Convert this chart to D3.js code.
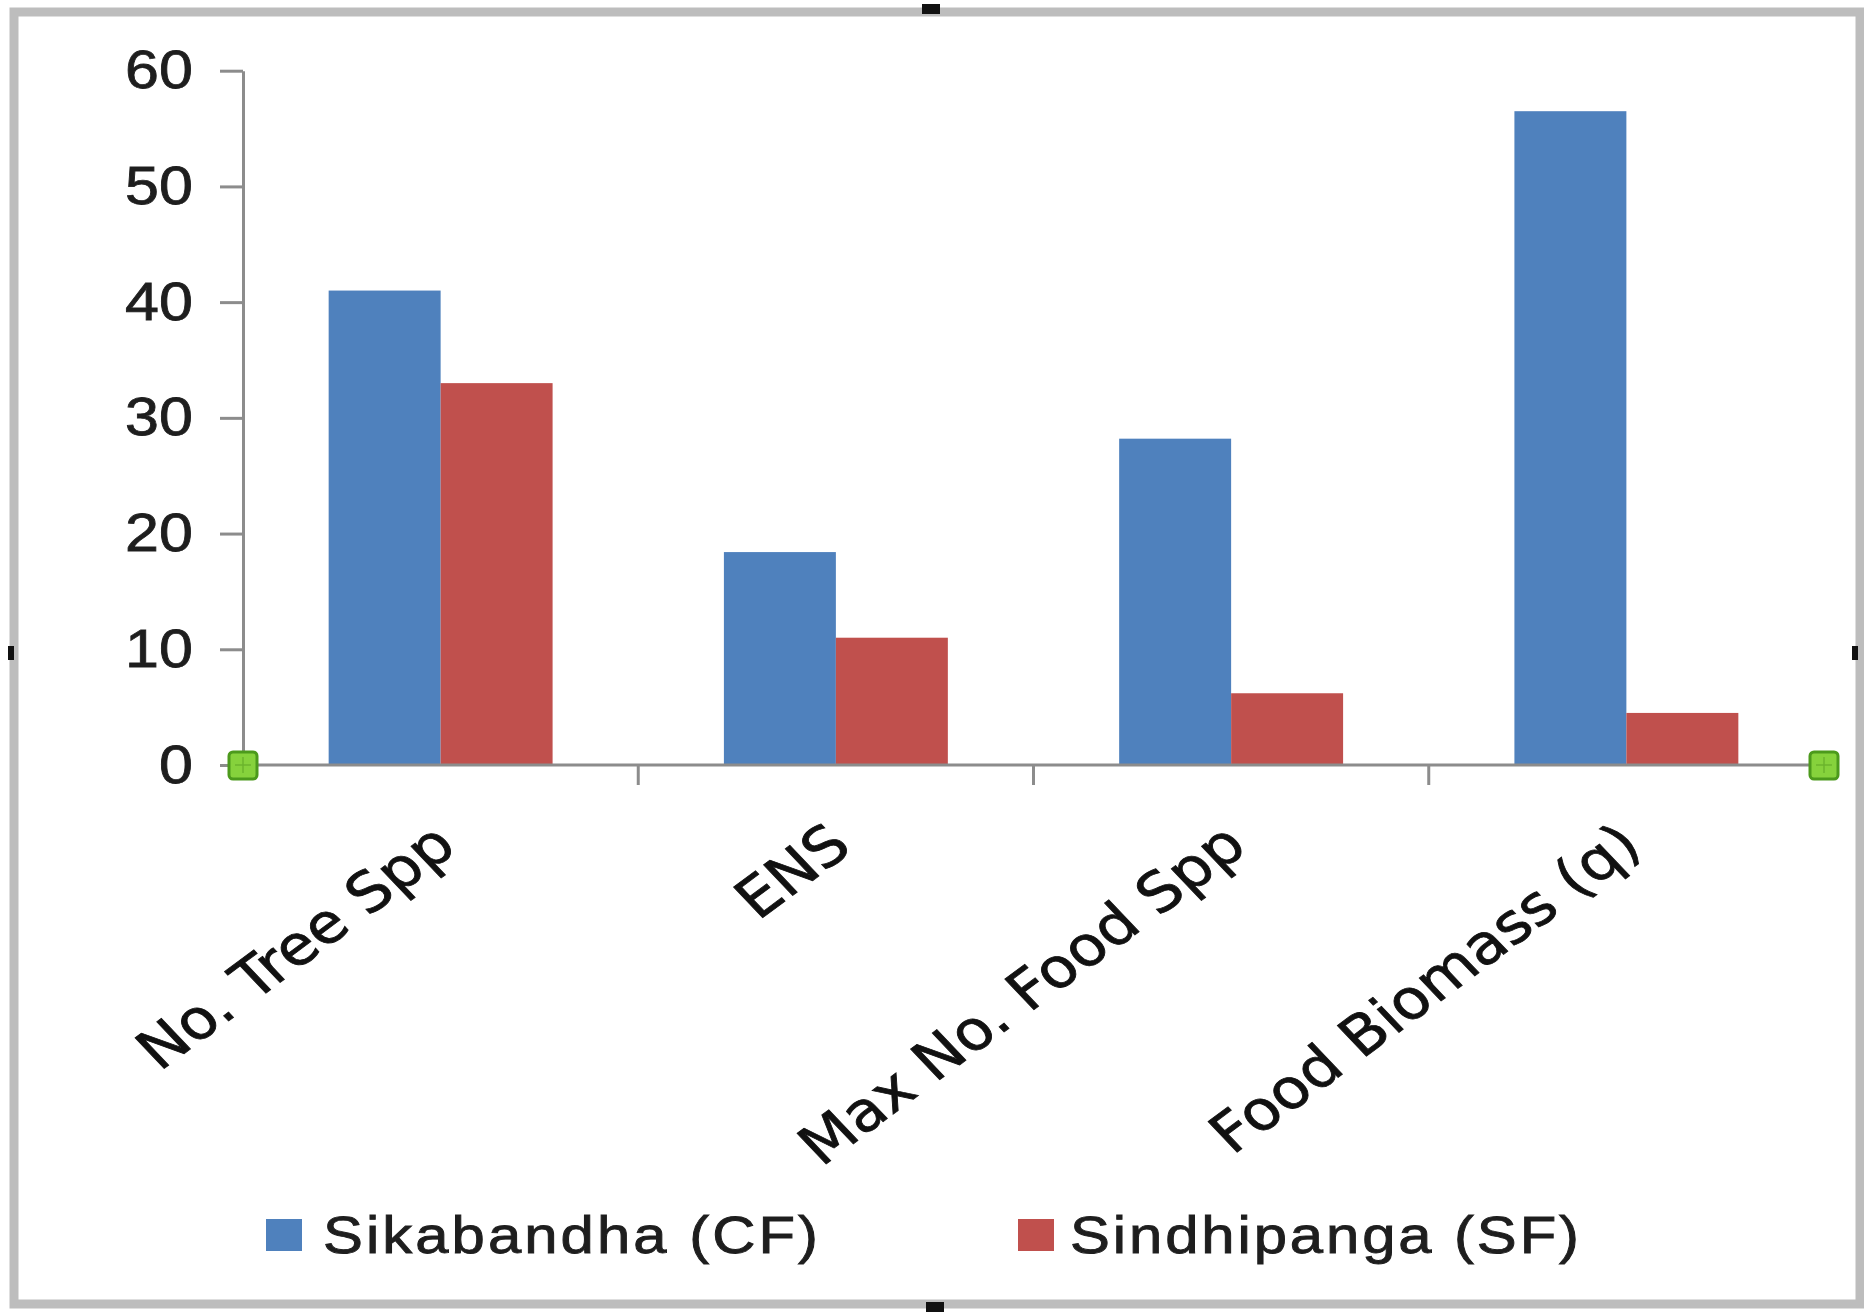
<!DOCTYPE html>
<html>
<head>
<meta charset="utf-8">
<script src="https://cdn.jsdelivr.net/npm/d3@7/dist/d3.min.js"></script>
<style>
  html, body { margin: 0; padding: 0; background: #ffffff; }
  svg { display: block; }
</style>
</head>
<body>
<svg id="chart" width="1864" height="1312"></svg>
<script>
// Categories, series and values
const categories = ["No. Tree Spp", "ENS", "Max No. Food Spp", "Food Biomass (q)"];
const seriesNames = ["Sikabandha (CF)", "Sindhipanga (SF)"];
const sikabandha = [41, 18.4, 28.2, 56.5];
const sindhipanga = [33, 11, 6.2, 4.5];
const yTicks = [0, 10, 20, 30, 40, 50, 60];
const seriesColors = ["#4f81bd", "#c0504d"];

const seriesValues = [sikabandha, sindhipanga];
const rows = categories.map((c, i) => ({
  category: c,
  values: seriesNames.map((s, j) => ({ series: s, value: seriesValues[j][i] }))
}));

const svg = d3.select("#chart");
const W = 1864, H = 1312;
const stretch = 1.13; // text is drawn slightly wide

// outer frame
svg.append("rect").attr("x", 0).attr("y", 0).attr("width", W).attr("height", H).attr("fill", "#ffffff");
svg.append("rect")
  .attr("x", 14).attr("y", 12).attr("width", 1846).attr("height", 1292)
  .attr("fill", "none").attr("stroke", "#bdbdbd").attr("stroke-width", 9);
// selection handles
[[922, 4, 18, 10], [926, 1302, 18, 10], [8, 646, 6, 14], [1852, 646, 6, 14]].forEach(h => {
  svg.append("rect").attr("x", h[0]).attr("y", h[1]).attr("width", h[2]).attr("height", h[3]).attr("fill", "#111");
});

const plot = { left: 243, right: 1824, top: 70.7, bottom: 765 };

const x0 = d3.scaleBand().domain(categories).range([plot.left, plot.right]).paddingInner(0).paddingOuter(0);
const x1 = d3.scaleBand().domain(seriesNames).range([0, x0.bandwidth()]).paddingInner(0).paddingOuter(0.765);
const y = d3.scaleLinear().domain([0, 60]).range([plot.bottom, plot.top]);
const color = d3.scaleOrdinal().domain(seriesNames).range(seriesColors);

// bars
const groups = svg.append("g").selectAll("g").data(rows).join("g")
  .attr("transform", d => `translate(${x0(d.category)},0)`);
groups.selectAll("rect").data(d => d.values).join("rect")
  .attr("x", d => x1(d.series))
  .attr("y", d => y(d.value))
  .attr("width", x1.bandwidth())
  .attr("height", d => y(0) - y(d.value))
  .attr("fill", d => color(d.series));

// y axis
const yAxis = svg.append("g")
  .attr("transform", `translate(${plot.left},0)`)
  .call(d3.axisLeft(y).tickValues(yTicks).tickSize(23).tickSizeOuter(0).tickFormat(d3.format("d")));
yAxis.select(".domain").attr("stroke", "#8c8c8c").attr("stroke-width", 3);
yAxis.selectAll(".tick line").attr("stroke", "#8c8c8c").attr("stroke-width", 3);
yAxis.selectAll(".tick text")
  .attr("x", null).attr("dy", null)
  .attr("transform", `translate(-50,17) scale(${stretch},1)`)
  .attr("text-anchor", "end")
  .attr("fill", "#1e1e1e")
  .attr("stroke", "#1e1e1e").attr("stroke-width", 0.8)
  .style("font-family", "'Liberation Sans', Arial, sans-serif")
  .style("font-size", "54px");

// x axis line and category separators
const xAxis = svg.append("g");
xAxis.append("line")
  .attr("x1", plot.left).attr("x2", plot.right)
  .attr("y1", y(0)).attr("y2", y(0))
  .attr("stroke", "#8c8c8c").attr("stroke-width", 3);
xAxis.selectAll("line.sep").data(categories.slice(1)).join("line")
  .attr("class", "sep")
  .attr("x1", d => x0(d)).attr("x2", d => x0(d))
  .attr("y1", y(0)).attr("y2", y(0) + 20)
  .attr("stroke", "#8c8c8c").attr("stroke-width", 3);

// rotated category labels
xAxis.selectAll("text").data(categories).join("text")
  .attr("transform", d => `translate(${x0(d) + x0.bandwidth() / 2 + 18},850) scale(${stretch},1) rotate(-40)`)
  .attr("text-anchor", "end")
  .attr("fill", "#111")
  .attr("stroke", "#111").attr("stroke-width", 0.8)
  .style("font-family", "'DejaVu Sans', sans-serif")
  .style("font-size", "55px")
  .text(d => d);

// green axis end markers
[plot.left, plot.right].forEach(px => {
  const g = svg.append("g").attr("transform", `translate(${px},${y(0)})`);
  g.append("rect").attr("x", -14).attr("y", -13).attr("width", 28).attr("height", 27)
    .attr("rx", 4).attr("fill", "#86d23c").attr("stroke", "#4c9a1c").attr("stroke-width", 3);
  g.append("line").attr("x1", 0).attr("x2", 0).attr("y1", -8).attr("y2", 8).attr("stroke", "#6bb52c").attr("stroke-width", 1.5);
  g.append("line").attr("x1", -8).attr("x2", 8).attr("y1", 0).attr("y2", 0).attr("stroke", "#6bb52c").attr("stroke-width", 1.5);
});

// legend
const legendStretch = 1.15;
const legendItems = [
  { name: seriesNames[0], sx: 266, tx: 323, tw: 495 },
  { name: seriesNames[1], sx: 1018, tx: 1070, tw: 509 }
];
const legend = svg.append("g");
legend.selectAll("rect").data(legendItems).join("rect")
  .attr("x", d => d.sx).attr("y", 1219).attr("width", 36).attr("height", 32)
  .attr("fill", d => color(d.name));
legend.selectAll("text").data(legendItems).join("text")
  .attr("transform", d => `translate(${d.tx},1253) scale(${legendStretch},1)`)
  .attr("textLength", d => d.tw / legendStretch).attr("lengthAdjust", "spacing")
  .attr("fill", "#1e1e1e")
  .attr("stroke", "#1e1e1e").attr("stroke-width", 0.9)
  .style("font-family", "'Liberation Sans', Arial, sans-serif")
  .style("font-size", "52px")
  .text(d => d.name);
</script>
</body>
</html>
